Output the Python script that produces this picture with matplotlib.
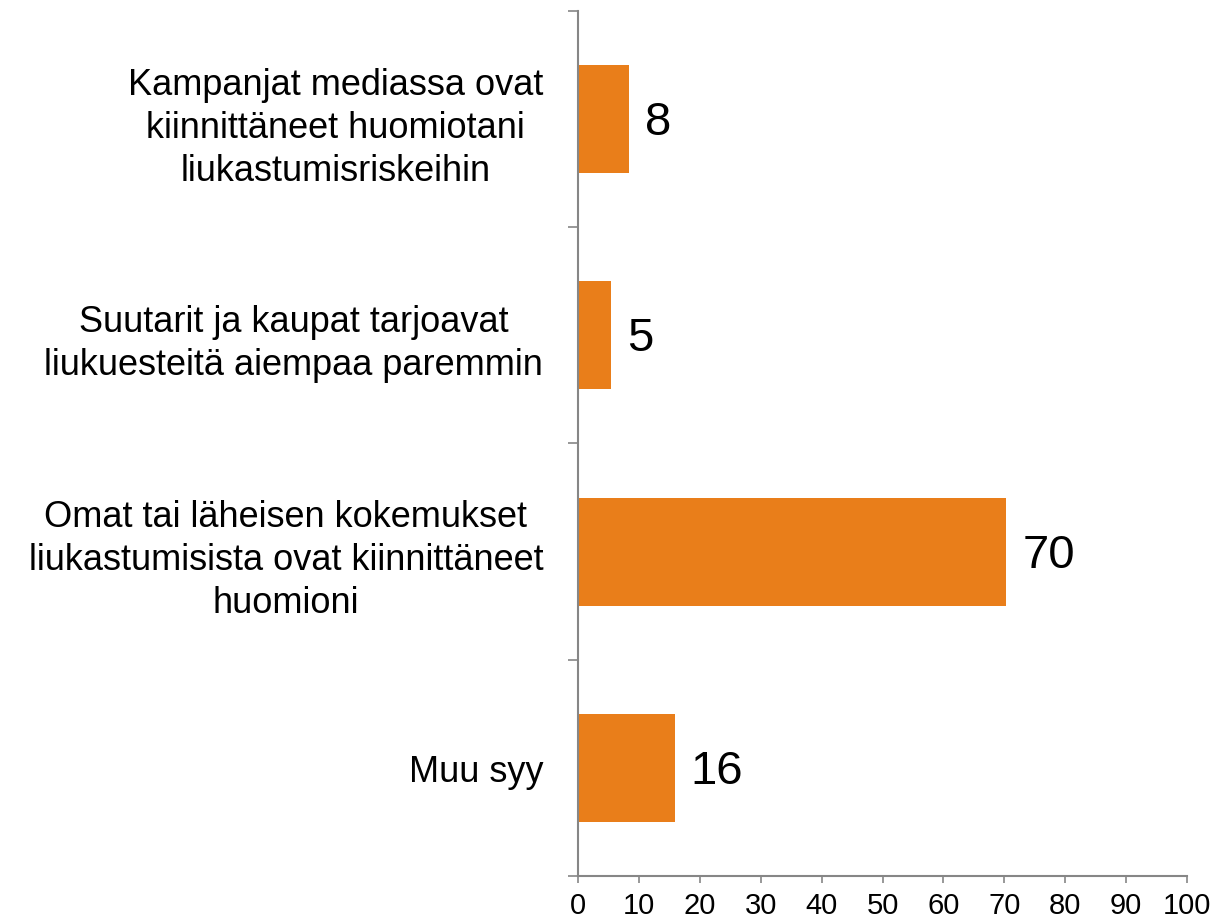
import matplotlib.pyplot as plt
from matplotlib.ticker import FixedLocator

plt.rcParams['font.family'] = ['Liberation Sans', 'DejaVu Sans']

categories = [
    'Kampanjat mediassa ovat\nkiinnittäneet huomiotani\nliukastumisriskeihin',
    'Suutarit ja kaupat tarjoavat\nliukuesteitä aiempaa paremmin',
    'Omat tai läheisen kokemukset\nliukastumisista ovat kiinnittäneet\nhuomioni',
    'Muu syy',
]
values = [8.4, 5.4, 70.3, 15.9]

bar_color = '#E97E1A'
axis_color = '#868686'

fig = plt.figure(figsize=(12.13, 9.2), dpi=100)
ax = fig.add_axes([0.4765, 0.0467, 0.5021, 0.9403])

ypos = list(range(len(categories) - 1, -1, -1))
ax.barh(ypos, values, height=0.5, color=bar_color)

for y, v in zip(ypos, values):
    ax.annotate(f'{round(v)}', xy=(v, y), xytext=(16, -3), textcoords='offset pixels',
                va='center', ha='left', fontsize=34, color='black')

ax.set_xlim(0, 100)
ax.set_ylim(-0.5, len(categories) - 0.5)
ax.set_xticks(range(0, 101, 10))

ax.set_yticks(ypos)
ax.set_yticklabels(categories)
ax.yaxis.set_minor_locator(FixedLocator([i - 0.5 for i in range(len(categories) + 1)]))
ax.tick_params(axis='y', which='major', length=0, pad=25, labelsize=26)
ax.tick_params(axis='y', which='minor', length=7, width=1.2, color=axis_color)
ax.tick_params(axis='x', length=5, width=1.2, color=axis_color, labelsize=21, pad=6)
for lbl in ax.get_yticklabels():
    lbl.set_multialignment('center')
    lbl.set_linespacing(1.3)

for side in ['top', 'right']:
    ax.spines[side].set_visible(False)
for side in ['left', 'bottom']:
    ax.spines[side].set_color(axis_color)
    ax.spines[side].set_linewidth(1.5)

fig.savefig('out.png', dpi=100)
